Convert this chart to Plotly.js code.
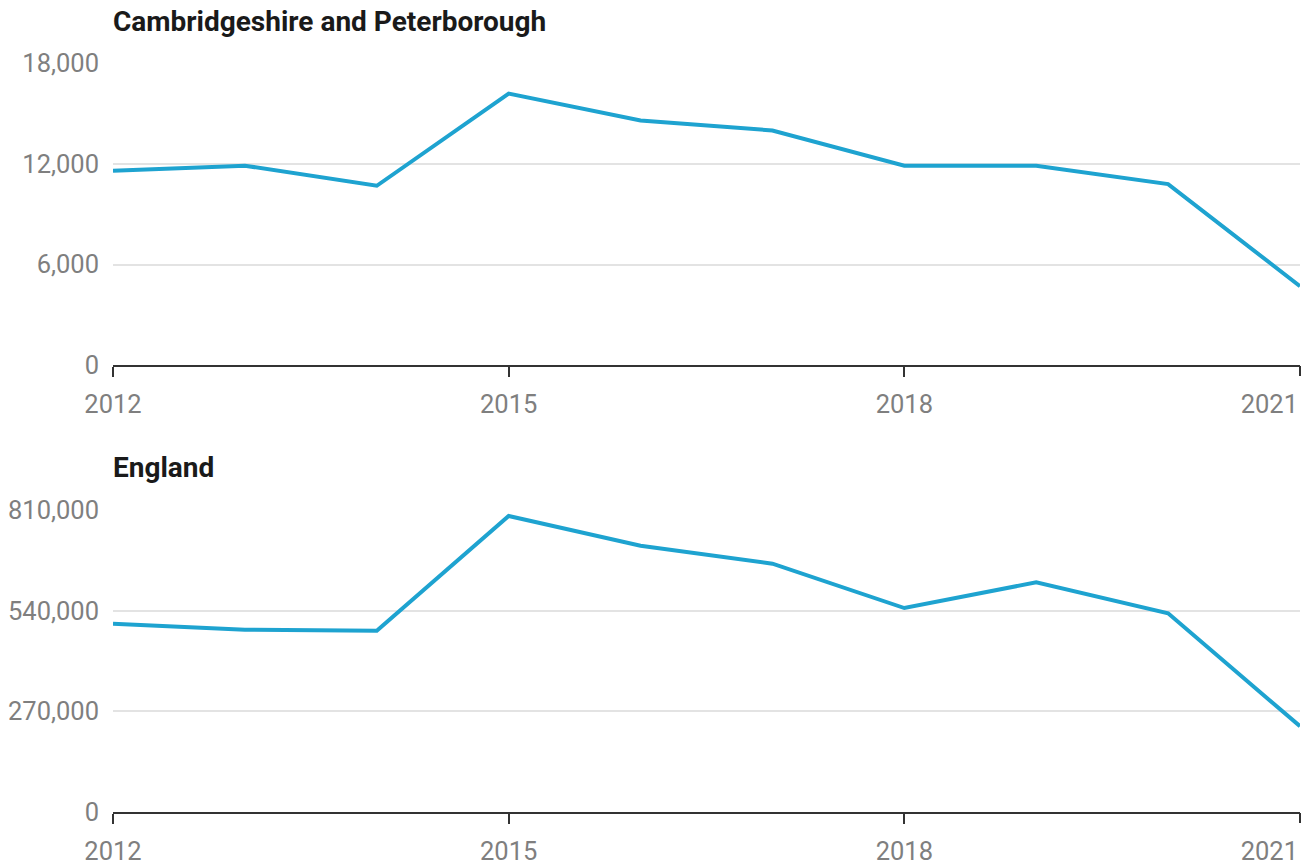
<!DOCTYPE html>
<html>
<head>
<meta charset="utf-8">
<script src="https://cdn.plot.ly/plotly-3.0.1.min.js"></script>
<style>
html,body{margin:0;padding:0;background:#fff;}
#chart{width:1303px;height:866px;}
</style>
</head>
<body>
<div id="chart"></div>
<script>
const years = [2012, 2013, 2014, 2015, 2016, 2017, 2018, 2019, 2020, 2021];
const cambsValues = [11600, 11900, 10700, 16200, 14600, 14000, 11900, 11900, 10800, 4700];
const englandValues = [505000, 489000, 486000, 794000, 714000, 666000, 547000, 616000, 533000, 230000];
const xTickVals = [2012, 2015, 2018];
const xLastTick = [2021];
const cambsTicks = [0, 6000, 12000, 18000];
const englandTicks = [0, 270000, 540000, 810000];
const titles = ['Cambridgeshire and Peterborough', 'England'];

const lineColor = '#1ea3d0';
const gray = '#7f7f7f';
const fontFam = 'Roboto, "Open Sans", sans-serif';

function xAxis(anchor, vals, extra) {
  const ax = {
    anchor: anchor,
    range: [2012, 2021],
    tickmode: 'array',
    tickvals: vals,
    ticktext: vals.map(String),
    ticks: 'outside',
    ticklen: 10,
    tickwidth: 2,
    tickcolor: '#333',
    showline: true,
    linecolor: '#333',
    linewidth: 2,
    showgrid: false,
    zeroline: false,
    ticklabelstandoff: 5,
    tickfont: {family: fontFam, size: 25.5, color: gray},
    fixedrange: true
  };
  return Object.assign(ax, extra || {});
}
function yAxis(anchor, domain, range, ticks) {
  return {
    anchor: anchor,
    domain: domain,
    range: range,
    tickmode: 'array',
    tickvals: ticks,
    tickformat: ',d',
    showgrid: true,
    gridcolor: '#e3e3e3',
    gridwidth: 2,
    zeroline: false,
    showline: false,
    ticks: '',
    ticklabelstandoff: 13,
    tickfont: {family: fontFam, size: 25.5, color: gray},
    fixedrange: true
  };
}

const traces = [
  {x: years, y: cambsValues, type: 'scatter', mode: 'lines', xaxis: 'x', yaxis: 'y',
   line: {color: lineColor, width: 4}, cliponaxis: false, hoverinfo: 'x+y'},
  {x: years, y: englandValues, type: 'scatter', mode: 'lines', xaxis: 'x2', yaxis: 'y2',
   line: {color: lineColor, width: 4}, cliponaxis: false, hoverinfo: 'x+y'},
  {x: [], y: [], type: 'scatter', mode: 'lines', xaxis: 'x3', yaxis: 'y', hoverinfo: 'skip'},
  {x: [], y: [], type: 'scatter', mode: 'lines', xaxis: 'x4', yaxis: 'y2', hoverinfo: 'skip'}
];

const lastTickOpts = {showline: false, ticklabelposition: 'outside left', ticklabelshift: -1, ticklabelstandoff: 16};

const H = 866;
const layout = {
  width: 1303, height: 866,
  margin: {l: 113, r: 3, t: 0, b: 0},
  paper_bgcolor: '#fff', plot_bgcolor: '#fff',
  showlegend: false,
  xaxis: xAxis('y', xTickVals),
  yaxis: yAxis('x', [(H - 365) / H, (H - 63.5) / H], [0, 18000], cambsTicks),
  xaxis2: xAxis('y2', xTickVals),
  yaxis2: yAxis('x2', [(H - 812) / H, (H - 510) / H], [0, 810000], englandTicks),
  xaxis3: xAxis('y', xLastTick, Object.assign({overlaying: 'x'}, lastTickOpts)),
  xaxis4: xAxis('y2', xLastTick, Object.assign({overlaying: 'x2'}, lastTickOpts)),
  annotations: [
    {text: '<b>' + titles[0] + '</b>', xref: 'paper', yref: 'paper', x: 0, y: (H - 22) / H,
     xanchor: 'left', yanchor: 'middle', showarrow: false, borderpad: 0, xshift: -1,
     font: {family: fontFam, size: 28, color: '#1a1a1a'}},
    {text: '<b>' + titles[1] + '</b>', xref: 'paper', yref: 'paper', x: 0, y: (H - 468) / H,
     xanchor: 'left', yanchor: 'middle', showarrow: false, borderpad: 0, xshift: -1,
     font: {family: fontFam, size: 28, color: '#1a1a1a'}}
  ]
};

Plotly.newPlot('chart', traces, layout, {displayModeBar: false, staticPlot: true});
</script>
</body>
</html>
